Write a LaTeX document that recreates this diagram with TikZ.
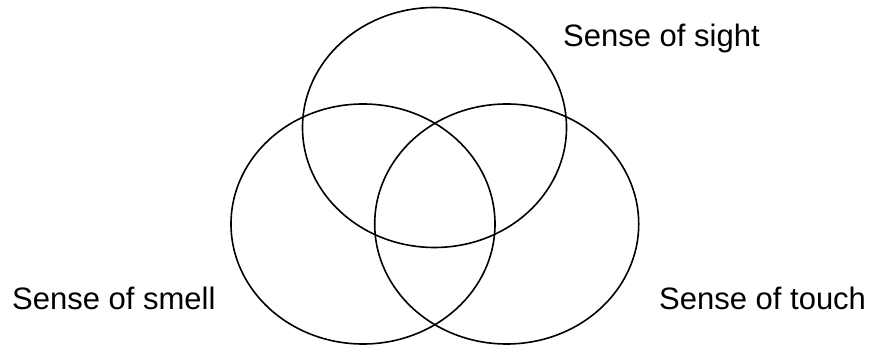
\documentclass[tikz,border=0pt]{standalone}
\usepackage{fontspec}
\setmainfont{Liberation Sans}
\usetikzlibrary{shapes.geometric}

\begin{document}
\begin{tikzpicture}[
		x=1pt, y=1pt,
		sense/.style={
				draw,
				ellipse,
				line width=1.6pt,
				minimum width=264pt,
				minimum height=240pt,
				inner sep=0pt
			},
		caption/.style={
				anchor=base west,
				inner sep=0pt,
				font=\fontsize{31}{36}\selectfont
			}
	]
	\useasboundingbox (0, 0) rectangle (874, 347);

	\node[sense] (sight) at (434.5, 219.5) {};
	\node[sense] (smell) at (363, 123) {};
	\node[sense] (touch) at (506.7, 123) {};

	\node[caption] (sightlabel) at (563, 300.3) {Sense of sight};
	\node[caption] (smelllabel) at (12, 37) {Sense of smell};
	\node[caption] (touchlabel) at (659, 37) {Sense of touch};

\end{tikzpicture}
\end{document}
